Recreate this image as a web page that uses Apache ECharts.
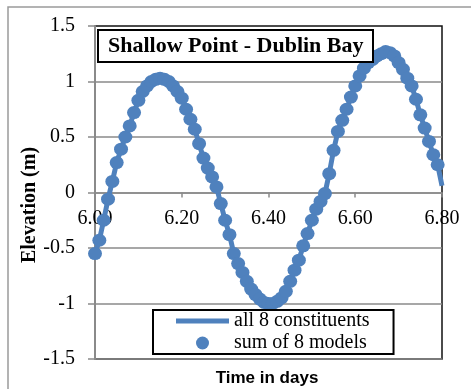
<!DOCTYPE html>
<html>
<head>
<meta charset="utf-8">
<script src="https://cdn.jsdelivr.net/npm/echarts@6/dist/echarts.min.js"></script>
<style>
  html, body { margin: 0; padding: 0; background: #fff; }
  #chart { width: 471px; height: 389px; }
</style>
</head>
<body>
<div id="chart"></div>
<script>
// Time axis (days) shared by both series
const days = [
  6.00, 6.01, 6.02, 6.03, 6.04, 6.05, 6.06, 6.07, 6.08, 6.09,
  6.10, 6.11, 6.12, 6.13, 6.14, 6.15, 6.16, 6.17, 6.18, 6.19,
  6.20, 6.21, 6.22, 6.23, 6.24, 6.25, 6.26, 6.27, 6.28, 6.29,
  6.30, 6.31, 6.32, 6.33, 6.34, 6.35, 6.36, 6.37, 6.38, 6.39,
  6.40, 6.41, 6.42, 6.43, 6.44, 6.45, 6.46, 6.47, 6.48, 6.49,
  6.50, 6.51, 6.52, 6.53, 6.54, 6.55, 6.56, 6.57, 6.58, 6.59,
  6.60, 6.61, 6.62, 6.63, 6.64, 6.65, 6.66, 6.67, 6.68, 6.69,
  6.70, 6.71, 6.72, 6.73, 6.74, 6.75, 6.76, 6.77, 6.78, 6.79,
  6.80
];

// Elevation (m) predicted from all 8 tidal constituents
const constituents = [
  -0.55, -0.43, -0.25, -0.06, 0.10, 0.27, 0.39, 0.50, 0.60, 0.72,
  0.83, 0.91, 0.96, 1.00, 1.02, 1.03, 1.02, 1.00, 0.96, 0.91,
  0.85, 0.75, 0.66, 0.57, 0.44, 0.31, 0.22, 0.14, 0.05, -0.10,
  -0.25, -0.38, -0.55, -0.64, -0.72, -0.80, -0.87, -0.92, -0.96, -0.99,
  -1.00, -1.00, -0.98, -0.95, -0.89, -0.80, -0.70, -0.61, -0.48, -0.37,
  -0.25, -0.15, -0.08, -0.01, 0.17, 0.38, 0.55, 0.65, 0.75, 0.86,
  0.96, 1.05, 1.12, 1.17, 1.20, 1.23, 1.25, 1.27, 1.26, 1.23,
  1.17, 1.11, 1.03, 0.96, 0.84, 0.70, 0.58, 0.46, 0.34, 0.25,
  0.06
];

// Elevation (m) from the sum of the 8 single-constituent models
const models = [
  -0.55, -0.43, -0.25, -0.06, 0.10, 0.27, 0.39, 0.50, 0.60, 0.72,
  0.83, 0.91, 0.96, 1.00, 1.02, 1.03, 1.02, 1.00, 0.96, 0.91,
  0.85, 0.75, 0.66, 0.57, 0.44, 0.31, 0.22, 0.14, 0.05, -0.10,
  -0.25, -0.38, -0.55, -0.64, -0.72, -0.80, -0.87, -0.92, -0.96, -0.99,
  -1.00, -1.00, -0.98, -0.95, -0.89, -0.80, -0.70, -0.61, -0.48, -0.37,
  -0.25, -0.15, -0.08, -0.01, 0.17, 0.38, 0.55, 0.65, 0.75, 0.86,
  0.96, 1.05, 1.12, 1.17, 1.20, 1.23, 1.25, 1.27, 1.26, 1.23,
  1.17, 1.11, 1.03, 0.96, 0.84, 0.70, 0.58, 0.46, 0.34, 0.25
];

const seriesNames = ['all 8 constituents', 'sum of 8 models'];
const chartTitle = 'Shallow Point - Dublin Bay';
const xTitle = 'Time in days';
const yTitle = 'Elevation (m)';

const blue = '#4f81bd';
const axisGray = '#8a8a8a';
const serif = '"Liberation Serif", "Times New Roman", serif';

const gridTop = 26;
const gridBottom = 30;
const chartHeight = 389;
const yMin = -1.5, yMax = 1.5;
// lift the time axis from the bottom edge up to elevation 0
const plotHeight = chartHeight - gridTop - gridBottom;
const zeroLift = plotHeight * (0 - yMin) / (yMax - yMin);

const chart = echarts.init(document.getElementById('chart'), null, { renderer: 'canvas' });

chart.setOption({
  animation: false,
  backgroundColor: '#fff',
  title: {
    text: chartTitle,
    left: 98,
    top: 30,
    padding: [5, 10, 5, 10],
    borderColor: '#000',
    borderWidth: 2,
    backgroundColor: '#fff',
    textStyle: { fontFamily: serif, fontWeight: 'bold', fontSize: 22, color: '#000' }
  },
  legend: {
    orient: 'vertical',
    left: 153,
    top: 310,
    itemWidth: 53,
    itemHeight: 13,
    itemGap: 2,
    padding: [1, 24, 1, 23],
    borderColor: '#000',
    borderWidth: 2,
    backgroundColor: '#fff',
    selectedMode: false,
    symbolKeepAspect: true,
    textStyle: { fontFamily: serif, fontSize: 20, color: '#000' },
    data: [
      { name: seriesNames[0], icon: 'path://M0,0L53,0L53,5L0,5Z' },
      { name: seriesNames[1], icon: 'circle' }
    ]
  },
  grid: {
    left: 95, right: 29, top: gridTop, bottom: gridBottom,
    show: true,
    borderColor: '#111',
    borderWidth: 1.5,
    backgroundColor: '#fff'
  },
  xAxis: {
    type: 'value',
    min: 6.0,
    max: 6.8,
    interval: 0.2,
    offset: -zeroLift,
    axisLine: { onZero: false, lineStyle: { color: axisGray, width: 1.5 } },
    axisTick: { show: true, length: 5, lineStyle: { color: axisGray, width: 1.5 } },
    axisLabel: {
      formatter: v => v.toFixed(2),
      color: '#000', fontFamily: serif, fontSize: 20, margin: 16
    },
    splitLine: { show: false }
  },
  yAxis: {
    type: 'value',
    min: yMin,
    max: yMax,
    interval: 0.5,
    axisLine: { show: true, lineStyle: { color: axisGray, width: 2 } },
    axisTick: { show: true, length: 7, lineStyle: { color: axisGray, width: 1.5 } },
    axisLabel: { color: '#000', fontFamily: serif, fontSize: 20, margin: 20 },
    splitLine: {
      show: true,
      lineStyle: {
        color: [axisGray, axisGray, axisGray, axisGray, axisGray, axisGray, 'rgba(0,0,0,0)'],
        width: 1.5
      }
    }
  },
  graphic: [
    {
      type: 'rect', z: -10, silent: true,
      shape: { x: 8, y: 7, width: 480, height: 400 },
      style: { fill: 'none', stroke: '#9a9a9a', lineWidth: 1.5 }
    },
    {
      type: 'text', x: 30, y: 205, rotation: Math.PI / 2, silent: true,
      style: {
        text: yTitle, font: 'bold 20px ' + serif,
        fill: '#000', align: 'center', verticalAlign: 'middle'
      }
    },
    {
      type: 'text', x: 267, y: 378, silent: true,
      style: {
        text: xTitle, font: 'bold 17px "Liberation Sans", Arial, sans-serif',
        fill: '#000', align: 'center', verticalAlign: 'middle'
      }
    }
  ],
  series: [
    {
      name: seriesNames[0],
      type: 'line',
      data: days.map((d, i) => [d, constituents[i]]),
      symbol: 'none',
      clip: true,
      lineStyle: { color: blue, width: 5 },
      itemStyle: { color: blue },
      z: 2
    },
    {
      name: seriesNames[1],
      type: 'scatter',
      data: models.map((v, i) => [days[i], v]),
      symbol: 'circle',
      symbolSize: [14, 13],
      itemStyle: { color: blue, opacity: 1 },
      z: 3
    }
  ]
});
</script>
</body>
</html>
